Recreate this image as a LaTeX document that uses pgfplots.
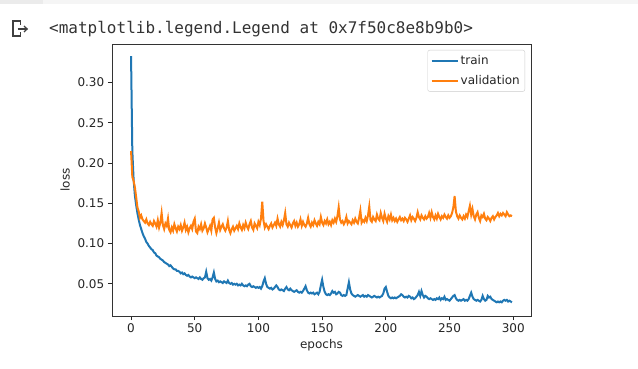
\documentclass[border=0pt]{standalone}
\usepackage{pgfplots}
\usepackage{pgfplotstable}
\usepackage{fontspec}
\pgfplotsset{compat=1.18}
\setmainfont{DejaVu Sans}
\newfontfamily\monofont{DejaVu Sans Mono}
\definecolor{tabblue}{HTML}{1F77B4}
\definecolor{taborange}{HTML}{FF7F0E}
\definecolor{legframe}{HTML}{CCCCCC}
\definecolor{strip}{HTML}{EBEBEB}
\definecolor{stripb}{HTML}{F5F5F5}

\pgfplotstableread{
e t v
0 0.333 0.215
1 0.215 0.183
2 0.180 0.178
3 0.160 0.170
4 0.148 0.158
5 0.138 0.145
6 0.130 0.140
7 0.123 0.132
8 0.118 0.135
9 0.113 0.130
10 0.109 0.128
11 0.106 0.126
12 0.102 0.130
13 0.100 0.125
14 0.097 0.123
15 0.095 0.127
16 0.093 0.124
17 0.092 0.122
18 0.089 0.128
19 0.088 0.125
20 0.085 0.121
21 0.084 0.129
22 0.083 0.120
23 0.081 0.126
24 0.080 0.138
25 0.079 0.123
26 0.077 0.118
27 0.076 0.125
28 0.075 0.122
29 0.074 0.131
30 0.072 0.117
31 0.073 0.114
32 0.071 0.120
33 0.069 0.116
34 0.068 0.124
35 0.068 0.119
36 0.066 0.115
37 0.066 0.121
38 0.065 0.118
39 0.063 0.123
40 0.064 0.116
41 0.062 0.120
42 0.063 0.126
43 0.061 0.117
44 0.060 0.121
45 0.061 0.114
46 0.059 0.119
47 0.058 0.122
48 0.059 0.118
49 0.058 0.127
50 0.057 0.131
51 0.058 0.115
52 0.057 0.113
53 0.056 0.121
54 0.058 0.118
55 0.056 0.124
56 0.055 0.116
57 0.057 0.119
58 0.058 0.125
59 0.065 0.120
60 0.057 0.114
61 0.055 0.118
62 0.056 0.122
63 0.054 0.116
64 0.058 0.130
65 0.064 0.132
66 0.056 0.120
67 0.053 0.113
68 0.054 0.119
69 0.052 0.126
70 0.053 0.117
71 0.052 0.121
72 0.051 0.124
73 0.053 0.119
74 0.052 0.116
75 0.051 0.120
76 0.054 0.128
77 0.051 0.117
78 0.050 0.113
79 0.051 0.118
80 0.049 0.121
81 0.050 0.116
82 0.049 0.119
83 0.050 0.122
84 0.048 0.118
85 0.049 0.125
86 0.048 0.120
87 0.050 0.117
88 0.048 0.123
89 0.047 0.119
90 0.048 0.126
91 0.047 0.121
92 0.049 0.118
93 0.050 0.124
94 0.047 0.128
95 0.046 0.120
96 0.047 0.117
97 0.046 0.125
98 0.045 0.122
99 0.046 0.119
100 0.045 0.127
101 0.046 0.123
102 0.044 0.131
103 0.047 0.152
104 0.053 0.128
105 0.057 0.120
106 0.050 0.124
107 0.046 0.121
108 0.045 0.118
109 0.044 0.122
110 0.045 0.125
111 0.043 0.120
112 0.044 0.123
113 0.046 0.126
114 0.048 0.122
115 0.046 0.131
116 0.043 0.124
117 0.042 0.121
118 0.043 0.127
119 0.042 0.123
120 0.041 0.129
121 0.044 0.138
122 0.046 0.124
123 0.043 0.121
124 0.042 0.126
125 0.044 0.123
126 0.042 0.120
127 0.041 0.125
128 0.040 0.128
129 0.041 0.122
130 0.042 0.126
131 0.040 0.121
132 0.039 0.124
133 0.040 0.130
134 0.039 0.122
135 0.041 0.127
136 0.044 0.123
137 0.047 0.121
138 0.042 0.125
139 0.039 0.132
140 0.038 0.124
141 0.039 0.121
142 0.038 0.126
143 0.039 0.123
144 0.037 0.129
145 0.038 0.125
146 0.039 0.122
147 0.037 0.127
148 0.040 0.124
149 0.048 0.133
150 0.055 0.126
151 0.046 0.123
152 0.040 0.128
153 0.037 0.125
154 0.036 0.130
155 0.037 0.124
156 0.036 0.127
157 0.038 0.123
158 0.041 0.129
159 0.039 0.126
160 0.040 0.131
161 0.037 0.127
162 0.038 0.134
163 0.040 0.145
164 0.039 0.130
165 0.036 0.126
166 0.035 0.128
167 0.036 0.124
168 0.035 0.127
169 0.036 0.133
170 0.044 0.125
171 0.052 0.128
172 0.043 0.126
173 0.038 0.124
174 0.036 0.129
175 0.035 0.126
176 0.034 0.131
177 0.035 0.127
178 0.036 0.125
179 0.035 0.132
180 0.034 0.141
181 0.035 0.126
182 0.036 0.129
183 0.034 0.127
184 0.035 0.132
185 0.034 0.128
186 0.036 0.135
187 0.035 0.146
188 0.034 0.129
189 0.033 0.127
190 0.034 0.133
191 0.035 0.130
192 0.034 0.128
193 0.033 0.136
194 0.034 0.131
195 0.033 0.129
196 0.034 0.138
197 0.035 0.132
198 0.038 0.128
199 0.044 0.137
200 0.046 0.131
201 0.040 0.127
202 0.035 0.134
203 0.033 0.130
204 0.032 0.136
205 0.033 0.129
206 0.032 0.132
207 0.033 0.128
208 0.032 0.131
209 0.033 0.127
210 0.034 0.130
211 0.035 0.133
212 0.037 0.129
213 0.036 0.131
214 0.034 0.128
215 0.033 0.132
216 0.034 0.130
217 0.033 0.127
218 0.035 0.131
219 0.034 0.135
220 0.032 0.129
221 0.033 0.133
222 0.031 0.131
223 0.032 0.128
224 0.034 0.132
225 0.036 0.139
226 0.040 0.133
227 0.035 0.130
228 0.041 0.135
229 0.036 0.132
230 0.033 0.130
231 0.035 0.134
232 0.034 0.131
233 0.032 0.133
234 0.031 0.138
235 0.032 0.132
236 0.031 0.139
237 0.030 0.133
238 0.031 0.130
239 0.030 0.135
240 0.032 0.131
241 0.031 0.137
242 0.033 0.133
243 0.030 0.130
244 0.032 0.134
245 0.031 0.132
246 0.034 0.136
247 0.030 0.133
248 0.031 0.131
249 0.030 0.135
250 0.029 0.132
251 0.031 0.134
252 0.033 0.138
253 0.035 0.145
254 0.036 0.159
255 0.032 0.140
256 0.030 0.134
257 0.029 0.131
258 0.030 0.135
259 0.029 0.132
260 0.030 0.130
261 0.031 0.134
262 0.029 0.131
263 0.030 0.136
264 0.029 0.133
265 0.031 0.140
266 0.035 0.147
267 0.039 0.136
268 0.034 0.143
269 0.031 0.134
270 0.030 0.130
271 0.029 0.136
272 0.030 0.139
273 0.029 0.132
274 0.028 0.128
275 0.030 0.135
276 0.035 0.133
277 0.031 0.137
278 0.029 0.131
279 0.030 0.129
280 0.035 0.133
281 0.033 0.131
282 0.034 0.128
283 0.031 0.132
284 0.030 0.134
285 0.029 0.130
286 0.028 0.133
287 0.027 0.135
288 0.028 0.138
289 0.027 0.134
290 0.028 0.137
291 0.027 0.135
292 0.029 0.138
293 0.030 0.136
294 0.029 0.134
295 0.030 0.139
296 0.028 0.136
297 0.029 0.134
298 0.028 0.135
299 0.027 0.134
}\losstable

\begin{document}
\begin{tikzpicture}[x=1pt,y=1pt]
\useasboundingbox (0,0) rectangle (638,369);
\fill[white] (0,0) rectangle (638,369);
\fill[stripb] (0,365) rectangle (638,369);
\fill[strip] (0,365) rectangle (43,369);
% output icon
\draw[black!75, line width=1.4pt, line join=miter]
  (20.5,344) -- (20.5,348) -- (12.8,348) -- (12.8,333) -- (20.5,333) -- (20.5,336.5);
\draw[black!75, line width=1.2pt] (17.5,340) -- (27,340);
\draw[black!75, line width=1.2pt] (24,343) -- (27.2,340) -- (24,337);
\node[anchor=base west, inner sep=0pt, text=black!80] at (49,335)
  {\monofont\fontsize{16}{18}\selectfont <matplotlib.legend.Legend at 0x7f50c8e8b9b0>};

\begin{axis}[
  at={(112pt,53pt)}, anchor=south west,
  scale only axis, width=419pt, height=272pt,
  xmin=-14.95, xmax=313.95, ymin=0.0100, ymax=0.348,
  xtick={0,50,100,150,200,250,300},
  ytick={0.05,0.10,0.15,0.20,0.25,0.30},
  yticklabel style={/pgf/number format/.cd, fixed, fixed zerofill, precision=2},
  xticklabel style={/pgf/number format/.cd, fixed},
  /pgf/number format/assume math mode=true,
  tick label style={font=\fontsize{12}{14}\selectfont, text=black!85},
  label style={font=\fontsize{12}{14}\selectfont, text=black!85},
  xtick pos=bottom, ytick pos=left, tick align=outside,
  major tick length=4.2pt,
  every tick/.style={black!85, line width=0.9pt},
  axis line style={black!80, line width=0.9pt},
  xlabel={epochs}, ylabel={loss},
  xlabel style={yshift=0pt},
  ylabel style={yshift=1pt},
  legend style={at={(axis description cs:1,1)}, anchor=north east,
    xshift=-6pt, yshift=-6pt, draw=legframe, rounded corners=2pt,
    font=\fontsize{12}{14}\selectfont, text=black!85,
    inner xsep=3pt, inner ysep=3.5pt, row sep=5pt},
  legend cell align=left,
  legend image code/.code={\draw[#1, line width=2pt] (0pt,0pt) -- (26pt,0pt);},
]
\addplot[tabblue, line width=2pt, no markers] table[x=e, y=t] {\losstable};
\addlegendentry{train}
\addplot[taborange, line width=2pt, no markers] table[x=e, y=v] {\losstable};
\addlegendentry{validation}
\end{axis}
\end{tikzpicture}
\end{document}
